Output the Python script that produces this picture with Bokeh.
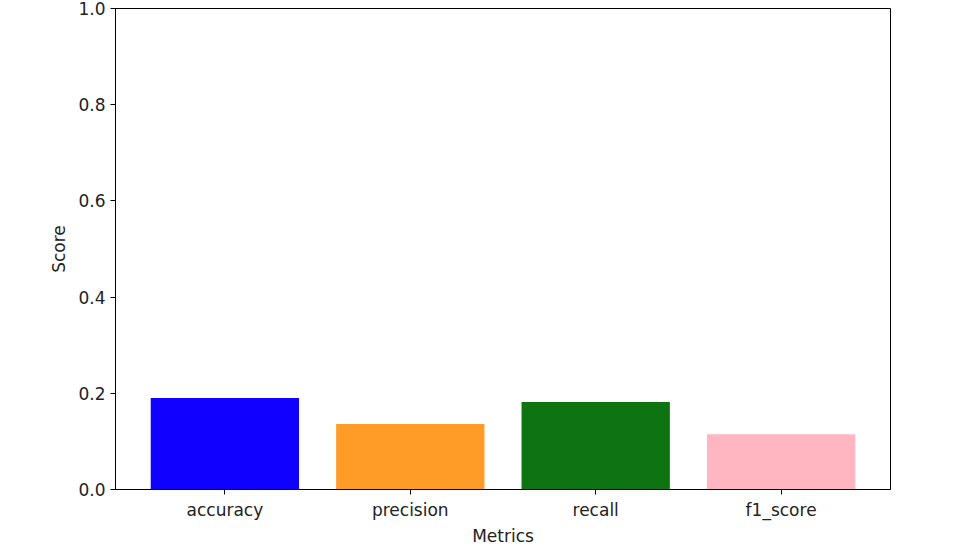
from bokeh.plotting import figure
from bokeh.models import FactorRange, Range1d, FixedTicker, ColumnDataSource, NumeralTickFormatter
from bokeh.embed import file_html
from bokeh.resources import INLINE

metrics = ["accuracy", "precision", "recall", "f1_score"]
scores = [0.190, 0.136, 0.182, 0.115]
colors = ["#0f00ff", "#ff9c27", "#0e7412", "#ffb6c1"]
y_ticks = [0.0, 0.2, 0.4, 0.6, 0.8, 1.0]

src = ColumnDataSource(dict(m=metrics, s=scores, c=colors))

p = figure(width=950, height=548, output_backend="svg", toolbar_location=None,
           x_range=FactorRange(factors=metrics, range_padding=0.045, range_padding_units="percent"),
           y_range=Range1d(0, 1),
           min_border_left=115, min_border_right=60, min_border_top=8, min_border_bottom=40)

p.vbar(x="m", top="s", width=0.8, color="c", source=src, line_color=None)

p.xgrid.visible = False
p.ygrid.visible = False
p.outline_line_color = "black"
p.outline_line_width = 1
p.background_fill_color = "white"
p.border_fill_color = "white"

FONT = "DejaVu Sans"
for ax in (p.xaxis[0], p.yaxis[0]):
    ax.axis_line_color = "black"
    ax.major_tick_line_color = "black"
    ax.major_tick_out = 5
    ax.major_tick_in = 0
    ax.minor_tick_line_color = None
    ax.major_label_text_font = FONT
    ax.major_label_text_font_size = "17px"
    ax.major_label_text_color = "#222222"
    ax.axis_label_text_font = FONT
    ax.axis_label_text_font_size = "17px"
    ax.axis_label_text_font_style = "normal"
    ax.axis_label_text_color = "#222222"
    ax.major_label_standoff = 5
    ax.axis_label_standoff = 3

p.yaxis[0].axis_label_standoff = 6
p.yaxis[0].ticker = FixedTicker(ticks=y_ticks)
p.yaxis[0].formatter = NumeralTickFormatter(format="0.0")
p.xaxis.axis_label = "Metrics"
p.yaxis.axis_label = "Score"

open("out.html", "w").write(file_html(p, INLINE))
